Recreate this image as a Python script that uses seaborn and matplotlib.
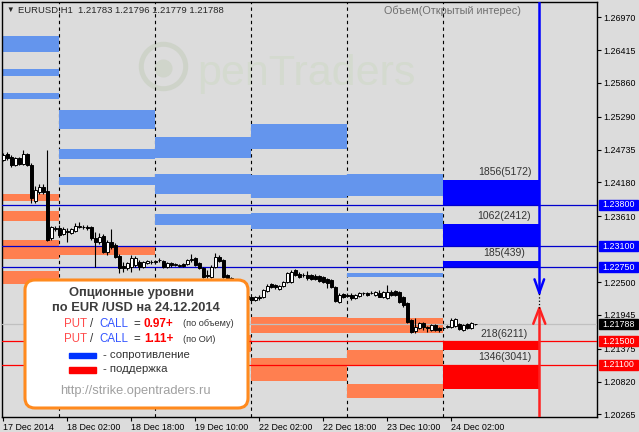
import numpy as np
import matplotlib
matplotlib.use('Agg')
import matplotlib.pyplot as plt
import seaborn as sns
from matplotlib.patches import FancyBboxPatch, Rectangle

# EURUSD H1 bars, 17 Dec 10:00 .. 24 Dec (weekend skipped), one entry per hour
opens = [1.2456, 1.2466, 1.2461, 1.2448, 1.2459, 1.2449, 1.2466, 1.2448, 1.2387, 1.2402,
         1.2410, 1.2404, 1.2324, 1.2339, 1.2341, 1.2331, 1.2336, 1.2333, 1.2336, 1.2343,
         1.2343, 1.2343, 1.2343, 1.2324, 1.2318, 1.2328, 1.2301, 1.2318, 1.2312, 1.2294,
         1.2277, 1.2274, 1.2275, 1.2279, 1.2284, 1.2275, 1.2282, 1.2284, 1.2284, 1.2287,
         1.2285, 1.2275, 1.2282, 1.2279, 1.2277, 1.2280, 1.2280, 1.2287, 1.2291, 1.2282,
         1.2274, 1.2262, 1.2258, 1.2275, 1.2292, 1.2287, 1.2262, 1.2257, 1.2250, 1.2240,
         1.2233, 1.2226, 1.2225, 1.2220, 1.2225, 1.2225, 1.2235, 1.2247, 1.2245, 1.2238,
         1.2243, 1.2250, 1.2250, 1.2270, 1.2264, 1.2262, 1.2262, 1.2262, 1.2260, 1.2260,
         1.2258, 1.2255, 1.2253, 1.2242, 1.2216, 1.2230, 1.2228, 1.2228, 1.2223, 1.2226,
         1.2231, 1.2231, 1.2231, 1.2228, 1.2231, 1.2225, 1.2223, 1.2233, 1.2235, 1.2233,
         1.2225, 1.2215, 1.2186, 1.2167, 1.2172, 1.2181, 1.2174, 1.2169, 1.2177, 1.2172,
         1.2172, 1.2174, 1.2174, 1.2176, 1.2179, 1.2169, 1.2179, 1.2172, 1.21783]
highs = [1.2468, 1.2469, 1.2464, 1.2461, 1.2461, 1.2473, 1.2468, 1.2451, 1.2412, 1.2415,
         1.2415, 1.2473, 1.2345, 1.2345, 1.2346, 1.2343, 1.2341, 1.2341, 1.2350, 1.2351,
         1.2346, 1.2346, 1.2345, 1.2334, 1.2333, 1.2331, 1.2321, 1.2339, 1.2316, 1.2297,
         1.2284, 1.2284, 1.2296, 1.2294, 1.2287, 1.2285, 1.2287, 1.2287, 1.2287, 1.2291,
         1.2287, 1.2284, 1.2284, 1.2282, 1.2280, 1.2282, 1.2289, 1.2297, 1.2292, 1.2284,
         1.2275, 1.2270, 1.2279, 1.2299, 1.2296, 1.2289, 1.2264, 1.2258, 1.2253, 1.2243,
         1.2237, 1.2230, 1.2226, 1.2226, 1.2228, 1.2238, 1.2247, 1.2248, 1.2247, 1.2245,
         1.2252, 1.2267, 1.2270, 1.2272, 1.2267, 1.2265, 1.2269, 1.2264, 1.2264, 1.2262,
         1.2260, 1.2257, 1.2255, 1.2243, 1.2231, 1.2231, 1.2231, 1.2231, 1.2230, 1.2233,
         1.2233, 1.2233, 1.2235, 1.2235, 1.2237, 1.2235, 1.2245, 1.2237, 1.2237, 1.2235,
         1.2226, 1.2216, 1.2188, 1.2189, 1.2182, 1.2182, 1.2176, 1.2179, 1.2179, 1.2174,
         1.2174, 1.2177, 1.2189, 1.2189, 1.2181, 1.2179, 1.2181, 1.2182, 1.21796]
lows = [1.2454, 1.2456, 1.2444, 1.2446, 1.2448, 1.2448, 1.2446, 1.2383, 1.2383, 1.2399,
        1.2399, 1.2319, 1.2321, 1.2336, 1.2326, 1.2329, 1.2318, 1.2331, 1.2334, 1.2341,
        1.2339, 1.2338, 1.2321, 1.2275, 1.2314, 1.2299, 1.2296, 1.2306, 1.2291, 1.2265,
        1.2267, 1.2270, 1.2267, 1.2275, 1.2270, 1.2274, 1.2280, 1.2280, 1.2280, 1.2284,
        1.2274, 1.2274, 1.2275, 1.2277, 1.2275, 1.2275, 1.2279, 1.2284, 1.2277, 1.2272,
        1.2257, 1.2257, 1.2257, 1.2274, 1.2284, 1.2257, 1.2253, 1.2247, 1.2237, 1.2228,
        1.2223, 1.2218, 1.2218, 1.2218, 1.2220, 1.2223, 1.2233, 1.2240, 1.2238, 1.2237,
        1.2242, 1.2248, 1.2248, 1.2260, 1.2257, 1.2258, 1.2253, 1.2253, 1.2253, 1.2250,
        1.2248, 1.2240, 1.2240, 1.2216, 1.2215, 1.2223, 1.2225, 1.2220, 1.2221, 1.2225,
        1.2228, 1.2226, 1.2230, 1.2226, 1.2225, 1.2223, 1.2221, 1.2226, 1.2226, 1.2215,
        1.2208, 1.2181, 1.2164, 1.2164, 1.2171, 1.2169, 1.2166, 1.2167, 1.2167, 1.2166,
        1.2169, 1.2172, 1.2172, 1.2174, 1.2169, 1.2167, 1.2171, 1.2171, 1.21779]
closes = [1.2464, 1.2459, 1.2448, 1.2459, 1.2449, 1.2466, 1.2448, 1.2392, 1.2405, 1.2410,
          1.2402, 1.2321, 1.2343, 1.2341, 1.2329, 1.2339, 1.2334, 1.2339, 1.2345, 1.2345,
          1.2343, 1.2341, 1.2324, 1.2318, 1.2326, 1.2301, 1.2318, 1.2309, 1.2292, 1.2274,
          1.2274, 1.2282, 1.2291, 1.2291, 1.2275, 1.2284, 1.2285, 1.2284, 1.2285, 1.2287,
          1.2275, 1.2282, 1.2279, 1.2280, 1.2278, 1.2277, 1.2287, 1.2289, 1.2279, 1.2274,
          1.2258, 1.2260, 1.2275, 1.2292, 1.2285, 1.2258, 1.2257, 1.2250, 1.2240, 1.2233,
          1.2226, 1.2221, 1.2220, 1.2225, 1.2223, 1.2237, 1.2243, 1.2242, 1.2242, 1.2243,
          1.2250, 1.2265, 1.2267, 1.2262, 1.2258, 1.2261, 1.2257, 1.2255, 1.2255, 1.2252,
          1.2250, 1.2248, 1.2242, 1.2218, 1.2228, 1.2225, 1.2227, 1.2223, 1.2228, 1.2231,
          1.2232, 1.2228, 1.2232, 1.2233, 1.2225, 1.2233, 1.2233, 1.2228, 1.2228, 1.2216,
          1.2211, 1.2182, 1.2166, 1.2174, 1.2181, 1.2174, 1.2172, 1.2177, 1.2169, 1.2169,
          1.2173, 1.2175, 1.2186, 1.2188, 1.2171, 1.2177, 1.2172, 1.2181, 1.21788]

# day blocks (bar index of midnight) and option levels per day
day_edges = [-1, 14, 38, 62, 86, 110]
resist_bands = [[(1.2638, 1.2665), (1.2598, 1.2610), (1.2559, 1.2569)],
                [(1.2509, 1.2540), (1.2458, 1.2475), (1.2414, 1.2427)],
                [(1.2460, 1.2494), (1.2399, 1.2433), (1.2347, 1.2365)],
                [(1.2475, 1.2517), (1.2392, 1.2431), (1.2340, 1.2367)],
                [(1.2395, 1.2432), (1.2340, 1.2367), (1.2258, 1.2265)]]
support_bands = [[(1.2386, 1.2398), (1.2353, 1.2370), (1.2289, 1.2321), (1.2246, 1.2269)],
                 [(1.2296, 1.2309)],
                 [(1.2132, 1.2161)],
                 [(1.2164, 1.2191), (1.2083, 1.2122)],
                 [(1.2164, 1.2190), (1.2109, 1.2135), (1.2055, 1.2077)]]

# today's levels (24 Dec)
today_start, today_end = 110, 134.2
today_resist = [(1.2380, 1.2422), (1.2310, 1.2348), (1.2275, 1.2286)]
today_resist_txt = ['1856(5172)', '1062(2412)', '185(439)']
today_support = [(1.2136, 1.2150), (1.2070, 1.2110)]
today_support_txt = ['218(6211)', '1346(3041)']

resist_lines = [1.2380, 1.2310, 1.2275]
support_lines = [1.2150, 1.2110]
bid = 1.21788
arrow_bar = 134
down_target = 1.2232
up_target = 1.2206

price_ticks = [1.26970, 1.26415, 1.25860, 1.25290, 1.24735, 1.24180, 1.23610,
               1.22500, 1.21945, 1.21375, 1.20820, 1.20265]
time_ticks = [0, 16, 32, 48, 64, 80, 96, 112]
time_labels = ['17 Dec 2014', '18 Dec 02:00', '18 Dec 18:00', '19 Dec 10:00',
               '22 Dec 02:00', '22 Dec 18:00', '23 Dec 10:00', '24 Dec 02:00']

BG = '#DCDCDC'
sns.set_theme(style='ticks', rc={'axes.facecolor': BG, 'figure.facecolor': BG,
                                 'axes.edgecolor': 'black', 'axes.linewidth': 1.0})
plt.rcParams['font.family'] = ['Liberation Sans', 'DejaVu Sans']

W, H = 639, 432
fig = plt.figure(figsize=(W / 100, H / 100), dpi=100)
ax = fig.add_axes([2 / W, 15 / H, 595 / W, 415 / H])
ymin, ymax = 1.20221, 1.27227
ax.set_xlim(-0.325, 148.425)
ax.set_ylim(ymin, ymax)

def fx(px):
    return px / W

def fy(py):
    return 1 - py / H

# watermark (faint logo)
ax.plot(39.8, 1.2614, marker='o', ms=32, mfc='none', mec='#CED3C9', mew=3.6, zorder=0.5)
ax.plot(39.8, 1.2612, marker='o', ms=13, mfc='#D0D5CB', mec='none', zorder=0.5)
ax.text(48.4, 1.2583, 'penTraders', fontsize=31, color='#D4DACF', va='baseline', zorder=0.5)

# day separators
for b in day_edges[1:]:
    ax.axvline(b, color='black', lw=0.8, ls=(0, (3, 3)), zorder=1)

# option level bands
for i in range(len(resist_bands)):
    start, end = day_edges[i], day_edges[i + 1]
    for lo, hi in resist_bands[i]:
        ax.barh(lo, end - start, height=hi - lo, left=start, align='edge',
                color='#6495ED', lw=0, zorder=2)
    for lo, hi in support_bands[i]:
        ax.barh(lo, end - start, height=hi - lo, left=start, align='edge',
                color='#FF7F50', lw=0, zorder=2)

for (lo, hi), txt in zip(today_resist, today_resist_txt):
    ax.barh(lo, today_end - today_start, height=hi - lo, left=today_start, align='edge',
            color='#0000FF', lw=0, zorder=2)
    ax.annotate(txt, (125.3, hi), xytext=(0, 5.5), textcoords='offset points',
                ha='center', va='center', fontsize=7.5, color='#333333', zorder=6)
for (lo, hi), txt in zip(today_support, today_support_txt):
    ax.barh(lo, today_end - today_start, height=hi - lo, left=today_start, align='edge',
            color='#FF0000', lw=0, zorder=2)
    ax.annotate(txt, (125.3, hi), xytext=(0, 5.5), textcoords='offset points',
                ha='center', va='center', fontsize=7.5, color='#333333', zorder=6)

for lvl in resist_lines:
    ax.axhline(lvl, color='#0000CC', lw=0.9, zorder=3)
for lvl in support_lines:
    ax.axhline(lvl, color='#FF0000', lw=0.9, zorder=3)
ax.axhline(bid, color='#C0C0C0', lw=0.9, zorder=3)

# candles
o = np.array(opens)
h = np.array(highs)
l = np.array(lows)
c = np.array(closes)
x = np.arange(len(c))
up = c >= o
ax.vlines(x, l, h, color='black', lw=0.8, zorder=4)
ax.bar(x, np.abs(c - o), bottom=np.minimum(o, c), width=0.72,
       color=np.where(up, 'white', 'black'), edgecolor='black', linewidth=0.7, zorder=4.5)

# forecast arrow
ax.plot([arrow_bar, arrow_bar], [ymax, down_target], color='#0000FF', lw=1.8, zorder=6)
ax.plot([arrow_bar - 1.2, arrow_bar, arrow_bar + 1.2],
        [down_target + 0.00225, down_target, down_target + 0.00225],
        color='#0000FF', lw=1.8, zorder=6)
ax.plot([arrow_bar, arrow_bar], [ymin, up_target], color='#FF2020', lw=1.8, zorder=6)
ax.plot([arrow_bar - 1.5, arrow_bar, arrow_bar + 1.5],
        [up_target - 0.00265, up_target, up_target - 0.00265],
        color='#FF2020', lw=1.8, zorder=6)
ax.plot([arrow_bar, arrow_bar], [up_target, down_target], color='black', lw=0.9,
        ls=':', zorder=6)

# axes
for s in ax.spines.values():
    s.set_visible(True)
    s.set_color('black')
ax.yaxis.tick_right()
ax.set_yticks(price_ticks)
ax.set_yticklabels(['%.5f' % v for v in price_ticks])
ax.set_xticks(time_ticks)
ax.set_xticklabels(time_labels)
for lbl in ax.get_xticklabels():
    lbl.set_ha('left')
ax.tick_params(axis='both', length=3, width=0.8, pad=1.5, labelsize=6.4, colors='black')

# price tags on the scale
tags = [(1.23800, '#0000FF'), (1.23100, '#0000FF'), (1.22750, '#0000FF'),
        (bid, '#000000'), (1.21500, '#FF0000'), (1.21100, '#FF0000')]
ytr = ax.get_yaxis_transform()
for p, col in tags:
    ax.add_patch(Rectangle((1.0034, p - 0.00085), 0.0647, 0.0017, transform=ytr,
                           color=col, clip_on=False, zorder=10))
    ax.text(1.0357, p, '%.5f' % p, transform=ytr, ha='center', va='center',
            color='white', fontsize=6.4, clip_on=False, zorder=11)

# header
fig.text(fx(6), fy(10.7), '\u25bc', fontsize=5.5, va='center', ha='left')
fig.text(fx(17.5), fy(10.7),
         'EURUSD,H1  %.5f %.5f %.5f %.5f' % (opens[-1], highs[-1], lows[-1], closes[-1]),
         fontsize=6.8, va='center', ha='left')
fig.text(fx(521), fy(10.7), 'Объем(Открытый интерес)', fontsize=7.8, color='#6E6E6E',
         va='center', ha='right')

# info box
box = FancyBboxPatch((0.25, 0.24), 2.23, 1.28, boxstyle='round,pad=0,rounding_size=0.1',
                     transform=fig.dpi_scale_trans, fc='white', ec='#FF8A1E', lw=2.2, zorder=5)
fig.add_artist(box)
fig.text(fx(131.2), fy(292.7), 'Опционные уровни', ha='center', va='center',
         fontsize=9.3, fontweight='bold', color='#3C3C3C', zorder=6)
fig.text(fx(136.3), fy(308.3), 'по EUR /USD на 24.12.2014', ha='center', va='center',
         fontsize=9.3, fontweight='bold', color='#3C3C3C', zorder=6)
for yy, ratio, note in [(324, '0.97+', '(по объему)'), (339.3, '1.11+', '(по ОИ)')]:
    fig.text(fx(64.3), fy(yy), 'PUT', color='#FF4B4B', fontsize=8.3, va='center', zorder=6)
    fig.text(fx(90), fy(yy), '/', color='#333333', fontsize=8.3, va='center', zorder=6)
    fig.text(fx(99), fy(yy), 'CALL', color='#3355FF', fontsize=8.3, va='center', zorder=6)
    fig.text(fx(133), fy(yy), '=', color='#333333', fontsize=8.3, va='center', zorder=6)
    fig.text(fx(144), fy(yy), ratio, color='#FF0000', fontsize=8.5, fontweight='bold',
             va='center', zorder=6)
    fig.text(fx(183.3), fy(yy), note, color='#333333', fontsize=6.6, va='center', zorder=6)
fig.add_artist(Rectangle((0.69, 0.74), 0.27, 0.053, transform=fig.dpi_scale_trans,
                         color='#0033FF', zorder=6))
fig.add_artist(Rectangle((0.69, 0.593), 0.27, 0.06, transform=fig.dpi_scale_trans,
                         color='#FF0000', zorder=6))
fig.text(fx(103.3), fy(355), '- сопротивление', color='#333333', fontsize=8.2,
         va='center', zorder=6)
fig.text(fx(103.3), fy(369), '- поддержка', color='#333333', fontsize=8.2,
         va='center', zorder=6)
fig.text(fx(135.8), fy(390.7), 'http://strike.opentraders.ru', color='#A0A0A0',
         fontsize=9.3, ha='center', va='center', zorder=6)

fig.savefig('out.png', dpi=100)
